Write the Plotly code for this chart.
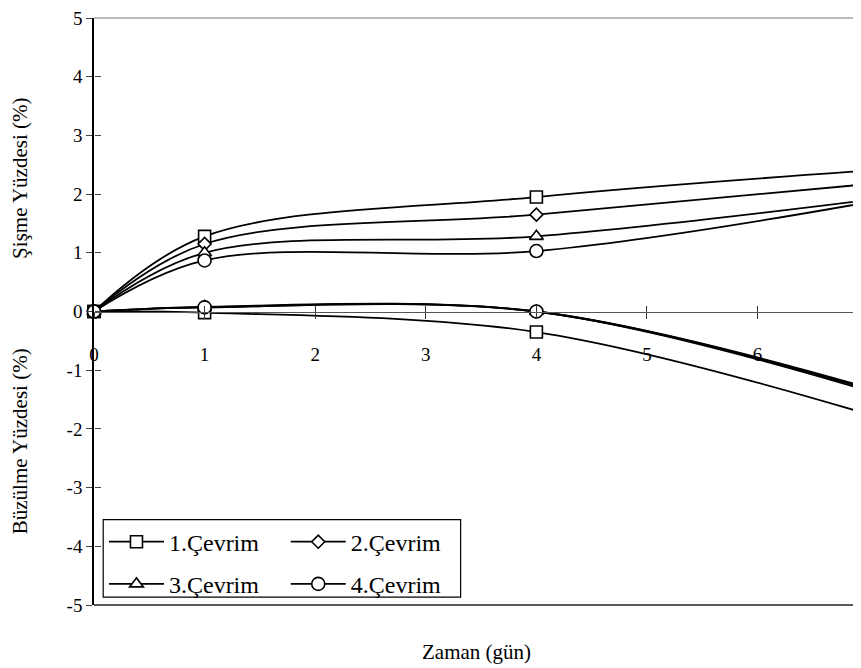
import plotly.graph_objects as go

# days
days = [0, 1, 4, 7]
series = ["1.Çevrim", "2.Çevrim", "3.Çevrim", "4.Çevrim"]

# swelling (%) per cycle
swell_1 = [0, 1.28, 1.95, 2.40]
swell_2 = [0, 1.15, 1.65, 2.17]
swell_3 = [0, 1.00, 1.28, 1.90]
swell_4 = [0, 0.87, 1.03, 1.86]

# shrinkage (%) per cycle
shrink_1 = [0, -0.02, -0.35, -1.75]
shrink_2 = [0, 0.08, 0.0, -1.32]
shrink_3 = [0, 0.07, 0.0, -1.30]
shrink_4 = [0, 0.07, 0.0, -1.35]

# tick labels
x_ticks = [0, 1, 2, 3, 4, 5, 6]
y_ticks = [5, 4, 3, 2, 1, 0, -1, -2, -3, -4, -5]
y_ticktext = ["5", "4", "3", "2", "1", "0", "-1", "-2", "-3", "-4", "-5"]

swell = [swell_1, swell_2, swell_3, swell_4]
shrink = [shrink_1, shrink_2, shrink_3, shrink_4]
symbols = ["square", "diamond", "triangle-up", "circle"]
sizes = [12, 10, 12, 13]
legends = ["legend", "legend2", "legend", "legend2"]

FONT = "Times New Roman, Liberation Serif, DejaVu Serif, serif"
tickfont = dict(family=FONT, size=19, color="black")

fig = go.Figure()
for i, name in enumerate(series):
    mk = dict(symbol=symbols[i], size=sizes[i], color="white",
              line=dict(color="black", width=1.6))
    fig.add_trace(go.Scatter(
        x=days, y=swell[i], name=name, mode="lines+markers",
        line=dict(color="black", width=1.8, shape="spline", smoothing=1),
        marker=mk, legendgroup=name, legend=legends[i], cliponaxis=False))
    fig.add_trace(go.Scatter(
        x=days, y=shrink[i], name=name, mode="lines+markers",
        line=dict(color="black", width=1.8, shape="spline", smoothing=1),
        marker=mk, legendgroup=name, showlegend=False, cliponaxis=False))

# dummy trace so the overlay tick axes get drawn
fig.add_trace(go.Scatter(x=[None], y=[None], xaxis="x2", yaxis="y2",
                         showlegend=False))

# the page body adds 8px, so the figure is a bit smaller than the window
fig.update_layout(
    width=853, height=660,
    margin=dict(l=86, r=0, t=6, b=63),
    paper_bgcolor="white", plot_bgcolor="white",
    font=dict(family=FONT, size=20, color="black"),
    xaxis=dict(range=[0, 6.935], tickvals=x_ticks, tickfont=tickfont,
               anchor="free", position=0.5, showline=True,
               linecolor="#555", linewidth=1, ticks="outside", ticklen=6,
               tickcolor="#333", ticklabelstandoff=20,
               showgrid=False, zeroline=False),
    xaxis2=dict(range=[0, 6.935], tickvals=x_ticks[1:],
                overlaying="x", anchor="free", position=0.5, side="top",
                ticks="outside", ticklen=6, tickcolor="#333",
                showticklabels=False, showline=False, showgrid=False,
                zeroline=False),
    yaxis=dict(range=[-5, 5], tickvals=y_ticks, ticktext=y_ticktext,
               tickfont=tickfont, ticklabeloverflow="allow",
               showline=True, linecolor="black",
               linewidth=1.5, ticks="outside", ticklen=6, showgrid=False,
               zeroline=False),
    yaxis2=dict(range=[-5, 5], tickvals=y_ticks, overlaying="y",
                anchor="free", position=0, side="left", ticks="inside",
                ticklen=6, showticklabels=False, showline=False,
                showgrid=False, zeroline=False),
    legend=dict(x=0.013, y=0.1455, xanchor="left", yanchor="top",
                bgcolor="rgba(0,0,0,0)", itemwidth=55, tracegroupgap=8,
                font=dict(family=FONT, size=24)),
    legend2=dict(x=0.25, y=0.1455, xanchor="left", yanchor="top",
                 bgcolor="rgba(0,0,0,0)", itemwidth=55, tracegroupgap=8,
                 font=dict(family=FONT, size=24)),
    shapes=[
        dict(type="line", xref="paper", yref="paper", x0=0, x1=1, y0=1, y1=1,
             line=dict(color="#777", width=1)),
        dict(type="line", xref="paper", yref="paper", x0=0, x1=1, y0=0, y1=0,
             line=dict(color="#222", width=1.5)),
        dict(type="rect", xref="paper", yref="paper", x0=0.012, x1=0.478,
             y0=0.0135, y1=0.1455, line=dict(color="black", width=1.2)),
    ],
    annotations=[
        dict(text="Şişme Yüzdesi (%)", xref="paper", yref="paper",
             x=-0.0965, y=0.7276, xanchor="center", yanchor="middle",
             textangle=-90, showarrow=False,
             font=dict(family=FONT, size=21)),
        dict(text="Büzülme Yüzdesi (%)", xref="paper", yref="paper",
             x=-0.0965, y=0.279, xanchor="center", yanchor="middle",
             textangle=-90, showarrow=False,
             font=dict(family=FONT, size=21)),
        dict(text="Zaman (gün)", xref="paper", yref="paper",
             x=0.499, y=-0.0795, xanchor="center", yanchor="middle",
             showarrow=False, font=dict(family=FONT, size=21)),
    ],
)

fig.write_html("out.html")
